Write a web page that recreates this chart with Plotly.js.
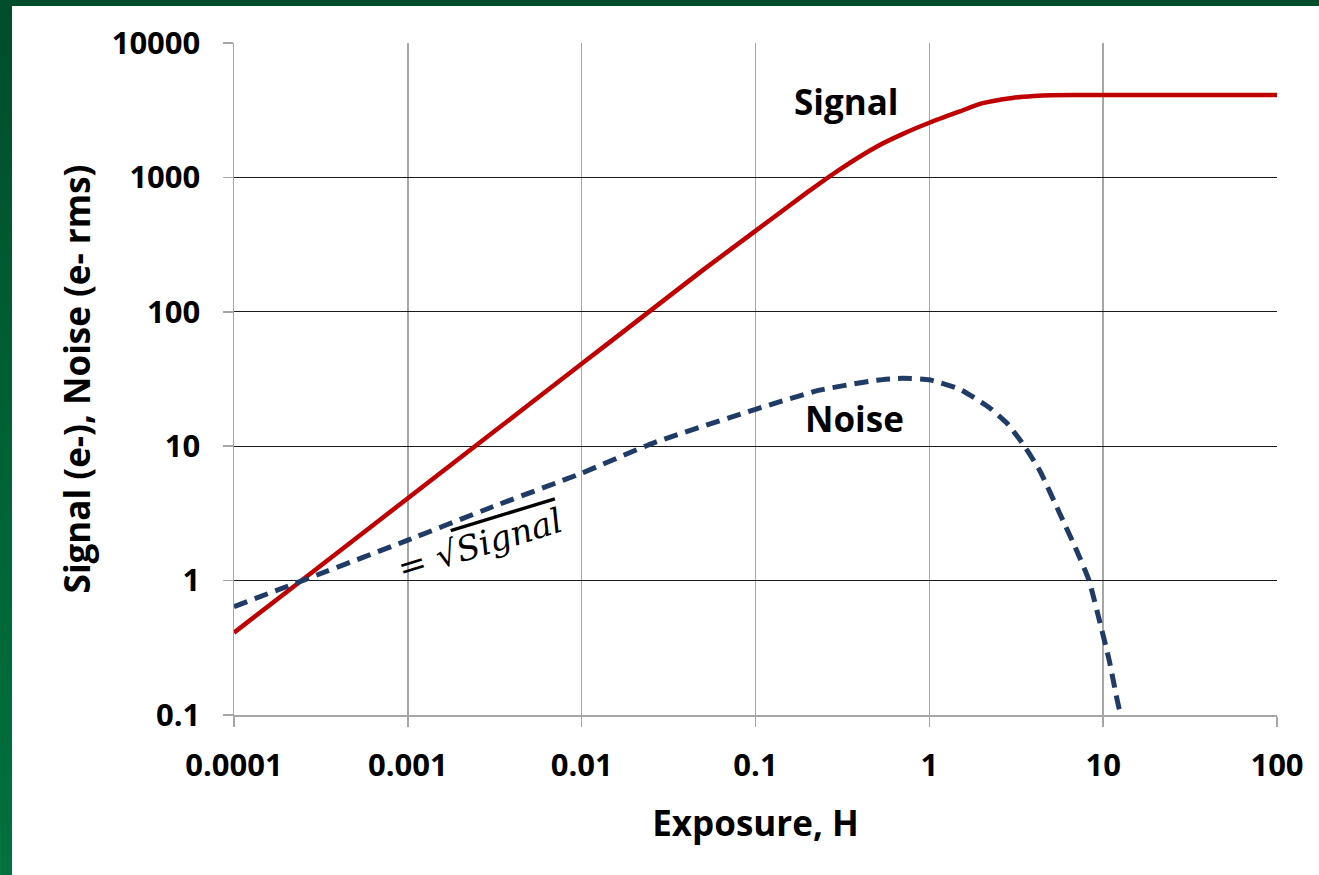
<!DOCTYPE html>
<html>
<head>
<meta charset="utf-8">
<script src="https://cdn.plot.ly/plotly-3.0.1.min.js"></script>
<style>
  html, body { margin: 0; padding: 0; background: #ffffff; }
  #wrap { position: relative; width: 1319px; height: 875px; overflow: hidden; }
  #chart { position: absolute; left: 0; top: 0; width: 1319px; height: 875px; }
  #topband { position: absolute; left: 0; top: 0; width: 1319px; height: 6px; background: #004d2b; }
  #leftband { position: absolute; left: 0; top: 0; width: 12px; height: 875px;
              background: linear-gradient(to bottom, #004d2b 0%, #006236 50%, #00713f 100%); }
</style>
</head>
<body>
<div id="wrap">
  <div id="chart"></div>
  <div id="topband"></div>
  <div id="leftband"></div>
</div>
<script>
// Signal (e-) vs exposure H
const signalH = [0.0001, 0.0002, 0.0005, 0.001, 0.002, 0.005, 0.01, 0.02, 0.05, 0.1, 0.2, 0.3, 0.5, 0.7, 1, 1.5, 2, 3, 4, 5, 7, 10, 20, 50, 100];
const signalE = [0.41, 0.82, 2.05, 4.1, 8.2, 20.5, 41, 82, 205, 400, 780, 1130, 1700, 2100, 2550, 3100, 3550, 3900, 4030, 4090, 4100, 4100, 4100, 4100, 4100];

// Noise (e- rms) vs exposure H
const noiseH = [0.0001, 0.0003, 0.001, 0.003, 0.01, 0.026, 0.1, 0.23, 0.5, 0.7, 1, 1.5, 2.2, 2.8, 3.4, 4.3, 5.6, 7, 8.3, 9.5, 10.8, 12.4, 12.9];
const noiseE = [0.64, 1.1, 2.0, 3.5, 6.3, 10.6, 18.8, 26, 31, 32, 31.2, 26.5, 19.5, 14.8, 10.7, 6.65, 3.2, 1.7, 1.0, 0.51, 0.26, 0.11, 0.1];

const xTickVals = [0.0001, 0.001, 0.01, 0.1, 1, 10, 100];
const xTickText = ["0.0001", "0.001", "0.01", "0.1", "1", "10", "100"];
const yTickVals = [0.1, 1, 10, 100, 1000, 10000];
const yTickText = ["0.1", "1", "10", "100", "1000", "10000"];

const FONT = "'Open Sans', 'Noto Sans', sans-serif";

const traces = [
  {
    x: signalH, y: signalE, type: "scatter", mode: "lines", name: "Signal",
    line: { color: "#c00000", width: 4.5, shape: "spline", smoothing: 0.6 },
    hoverinfo: "skip"
  },
  {
    x: noiseH, y: noiseE, type: "scatter", mode: "lines", name: "Noise",
    line: { color: "#1f3b66", width: 5, dash: "14px,8px", shape: "spline", smoothing: 0.5 },
    hoverinfo: "skip"
  }
];

const layout = {
  width: 1319, height: 875,
  margin: { l: 234, r: 42, t: 43, b: 160, pad: 0 },
  paper_bgcolor: "#ffffff", plot_bgcolor: "#ffffff",
  showlegend: false,
  font: { family: FONT, color: "#000000" },
  xaxis: {
    type: "log", range: [-4, 2],
    tickvals: xTickVals, ticktext: xTickText,
    tickfont: { family: FONT, size: 31, weight: "bold", color: "#000" },
    ticks: "outside", ticklen: 10, tickcolor: "#a6a6a6", tickwidth: 1.5,
    ticklabelstandoff: 12,
    showgrid: true, gridcolor: "#a6a6a6", gridwidth: 1.5,
    showline: true, linecolor: "#a6a6a6", linewidth: 1.5, mirror: false,
    zeroline: false,
    title: { text: "Exposure, H", font: { family: FONT, size: 35, weight: "bold", color: "#000" }, standoff: 28 }
  },
  yaxis: {
    type: "log", range: [-1, 4],
    tickvals: yTickVals, ticktext: yTickText,
    tickfont: { family: FONT, size: 31, weight: "bold", color: "#000" },
    ticks: "outside", ticklen: 10, tickcolor: "#a6a6a6", tickwidth: 1.5,
    ticklabelstandoff: 16,
    showgrid: true, gridcolor: "#1a1a1a", gridwidth: 1.3,
    showline: true, linecolor: "#a6a6a6", linewidth: 1.5, mirror: false,
    zeroline: false,
    title: { text: "Signal (e-), Noise (e- rms)", font: { family: FONT, size: 35, weight: "bold", color: "#000" }, standoff: 10 }
  },
  annotations: [
    { x: Math.log10(0.335), y: Math.log10(3640), xref: "x", yref: "y", text: "Signal", showarrow: false,
      font: { family: FONT, size: 35, weight: "bold", color: "#000" } },
    { x: Math.log10(0.37), y: Math.log10(16.2), xref: "x", yref: "y", text: "Noise", showarrow: false,
      font: { family: FONT, size: 35, weight: "bold", color: "#000" } },
    { x: Math.log10(0.0026), y: Math.log10(1.86), xref: "x", yref: "y",
      text: "= √<span style=\"text-decoration:overline\"><i>Signal</i></span>", showarrow: false, textangle: -17,
      font: { family: "'DejaVu Serif', 'Liberation Serif', serif", size: 34, color: "#000" } }
  ]
};

Plotly.newPlot("chart", traces, layout, { displayModeBar: false, staticPlot: true });
</script>
</body>
</html>
